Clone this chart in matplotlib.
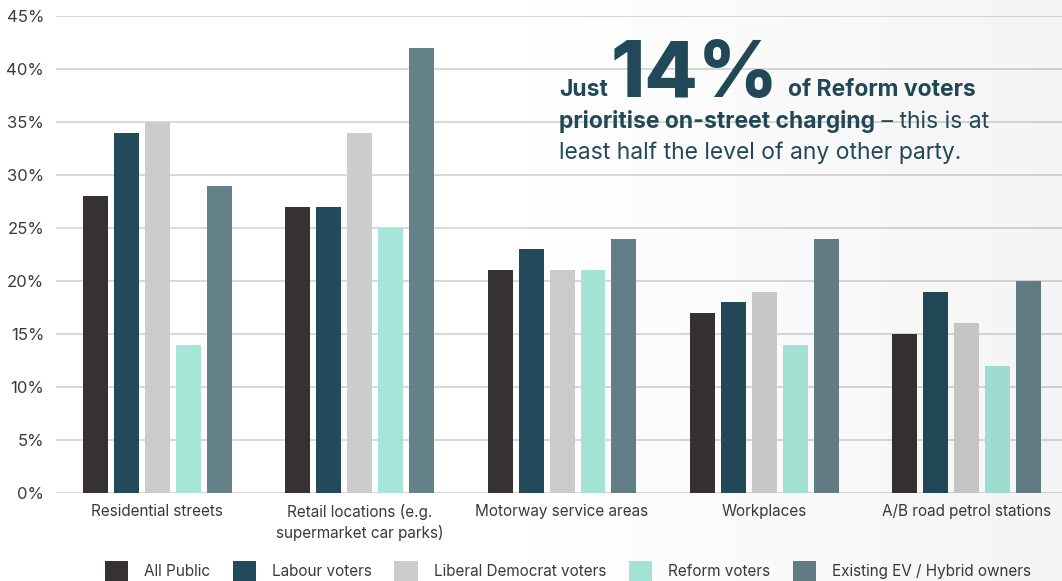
import matplotlib
matplotlib.use("Agg")
import matplotlib.pyplot as plt
import numpy as np

plt.rcParams['font.family'] = ['Inter', 'DejaVu Sans']

categories = ["Residential streets", "Retail locations (e.g.\nsupermarket car parks)",
              "Motorway service areas", "Workplaces", "A/B road petrol stations"]
series_names = ["All Public", "Labour voters", "Liberal Democrat voters",
                "Reform voters", "Existing EV / Hybrid owners"]
all_public = [28, 27, 21, 17, 15]
labour = [34, 27, 23, 18, 19]
libdem = [35, 34, 21, 19, 16]
reform = [14, 25, 21, 14, 12]
ev_owners = [29, 42, 24, 24, 20]
yticks = [0, 5, 10, 15, 20, 25, 30, 35, 40, 45]
colors = ["#363232", "#234a5a", "#cccccc", "#a5e6d9", "#648089"]

series = [all_public, labour, libdem, reform, ev_owners]

W, H = 1062, 581
fig = plt.figure(figsize=(W / 100, H / 100), dpi=100)
fig.patch.set_facecolor("white")

ax = fig.add_axes([56 / W, 1 - 493 / H, 1 - 56 / W, (493 - 16) / H])
ax.set_facecolor("none")

x = np.arange(len(categories))
step = 31 / 202.6
width = 25 / 202.6
for i, (vals, c, name) in enumerate(zip(series, colors, series_names)):
    ax.bar(x + (i - 2) * step, vals, width=width, color=c, label=name, zorder=3)

ax.set_xlim(-0.5, 4.47)
ax.set_ylim(0, 45)
ax.set_yticks(yticks)
ax.set_yticklabels([f"{v}%" for v in yticks], fontsize=12, color="#3a3a3a")
ax.set_xticks(x)
ax.set_xticklabels(categories, fontsize=11, color="#3a3a3a", linespacing=1.35)
ax.tick_params(axis="y", length=0, pad=8.5)
ax.tick_params(axis="x", length=0, pad=8)
ax.grid(axis="y", color="#d9d9d9", linewidth=1.4, zorder=0)
for s in ax.spines.values():
    s.set_visible(False)

leg = fig.legend(loc="center", bbox_to_anchor=(568 / W, 1 - 571 / H), ncol=5,
                 frameon=False, fontsize=11, handlelength=1.55, handleheight=1.55,
                 handletextpad=1.05, columnspacing=1.45, labelcolor="#3a3a3a",
                 borderaxespad=0, borderpad=0)

# annotation text in pixel coordinates
fig.canvas.draw()
renderer = fig.canvas.get_renderer()
tc = "#234a5a"

def put(xp, yp, s, **kw):
    t = fig.text(xp / W, 1 - yp / H, s, color=tc, va="baseline", ha="left", **kw)
    bb = t.get_window_extent(renderer)
    return bb.x1

fs = 16.5
xx = put(559, 96, "Just", fontsize=fs, fontweight="bold")
xx = put(xx + 3, 97, "14%", fontsize=56, fontweight="heavy")
xx = put(xx + 9, 96, "of Reform voters", fontsize=fs, fontweight="bold")
xx = put(559, 128, "prioritise on-street charging", fontsize=fs, fontweight="bold")
xx = put(xx, 128, " \u2013 this is at", fontsize=fs)
put(559, 159, "least half the level of any other party.", fontsize=fs)

# subtle gradient shading to the right
ov = fig.add_axes([0, 0, 1, 1], zorder=10)
ov.axis("off")
g = np.linspace(0, 1, 400)
alpha = np.clip((g - 0.45) / 0.55, 0, 1) * 0.045
rgba = np.zeros((1, 400, 4))
rgba[..., 3] = alpha
ov.imshow(rgba, aspect="auto", extent=[0, 1, 0, 1])
ov.set_xlim(0, 1)
ov.set_ylim(0, 1)

fig.savefig("out.png", dpi=100)
